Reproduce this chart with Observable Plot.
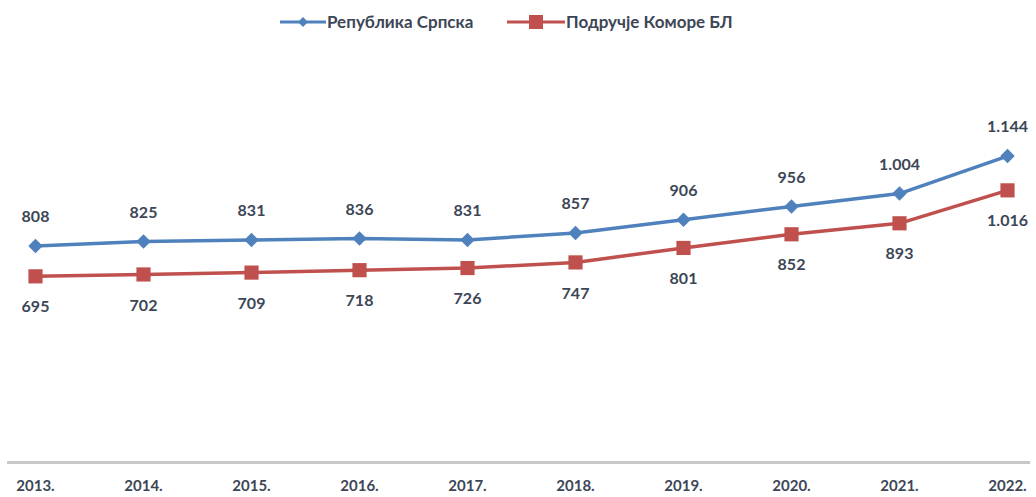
<!DOCTYPE html>
<html>
<head>
<meta charset="utf-8">
<script src="https://cdn.jsdelivr.net/npm/d3@7"></script>
<script src="https://cdn.jsdelivr.net/npm/@observablehq/plot@0.6"></script>
<style>
  html, body { margin: 0; padding: 0; background: #fff; }
  #wrap { width: 1036px; position: relative; font-family: Lato, "Open Sans", sans-serif; }
  #legend { height: 40px; position: relative; font-weight: bold; font-size: 17px; color: #3d4656; }
  .item { position: absolute; top: 11px; display: flex; align-items: center; gap: 1px; }
  svg { display: block; }
</style>
</head>
<body>
<div id="wrap">
  <div id="legend"></div>
  <div id="chart"></div>
</div>
<script>
const years = ["2013.", "2014.", "2015.", "2016.", "2017.", "2018.", "2019.", "2020.", "2021.", "2022."];
const republikaSrpska = [808, 825, 831, 836, 831, 857, 906, 956, 1004, 1144];
const podrucjeKomoreBL = [695, 702, 709, 718, 726, 747, 801, 852, 893, 1016];
const seriesNames = ["Република Српска", "Подручје Коморе БЛ"];
const seriesColors = ["#4f81bd", "#c0504d"];

const loc = d3.formatLocale({decimal: ",", thousands: ".", grouping: [3], currency: ["", ""]});
const fmt = loc.format(",d");

const blue = years.map((y, i) => ({year: y, value: republikaSrpska[i]}));
const red = years.map((y, i) => ({year: y, value: podrucjeKomoreBL[i]}));

// Legend
const legend = document.getElementById("legend");
const legendPos = [280, 507];
seriesNames.forEach((name, i) => {
  const div = document.createElement("div");
  div.className = "item";
  div.style.left = legendPos[i] + "px";
  const marker = i === 0
    ? `<svg width="46" height="14"><line x1="0" y1="7" x2="46" y2="7" stroke="${seriesColors[0]}" stroke-width="3"/><path d="M23,2 L28,7 L23,12 L18,7 Z" fill="${seriesColors[0]}"/></svg>`
    : `<svg width="58" height="14"><line x1="0" y1="7" x2="58" y2="7" stroke="${seriesColors[1]}" stroke-width="3"/><rect x="22" y="0" width="14" height="14" fill="${seriesColors[1]}"/></svg>`;
  div.innerHTML = marker + `<span>${name}</span>`;
  legend.appendChild(div);
});

const textColor = "#3d4656";
const plot = Plot.plot({
  width: 1036,
  height: 457,
  marginLeft: 34,
  marginRight: 28,
  marginTop: 47,
  marginBottom: 35,
  style: {fontFamily: "Lato, 'Open Sans', sans-serif", background: "#fff"},
  x: {type: "point", domain: years, padding: 0, label: null},
  y: {domain: [0, 1400], axis: null},
  marks: [
    Plot.ruleY([0], {stroke: "#c8c8c8", strokeWidth: 3, insetLeft: -27, insetRight: -22}),
    Plot.axisX({tickSize: 0, tickPadding: 18, fontSize: 15, fontWeight: "bold", fill: textColor, label: null}),
    Plot.line(blue, {x: "year", y: "value", stroke: seriesColors[0], strokeWidth: 3.5}),
    Plot.line(red, {x: "year", y: "value", stroke: seriesColors[1], strokeWidth: 3.5}),
    Plot.dot(blue, {x: "year", y: "value", symbol: "diamond2", r: 6.5, fill: seriesColors[0], stroke: "none"}),
    Plot.dot(red, {x: "year", y: "value", symbol: "square", r: 8, fill: seriesColors[1], stroke: "none"}),
    Plot.text(blue, {x: "year", y: "value", text: d => fmt(d.value), dy: -29, fontSize: 16, fontWeight: "bold", fill: textColor}),
    Plot.text(red, {x: "year", y: "value", text: d => fmt(d.value), dy: 31, fontSize: 16, fontWeight: "bold", fill: textColor})
  ]
});
document.getElementById("chart").appendChild(plot);
</script>
</body>
</html>
